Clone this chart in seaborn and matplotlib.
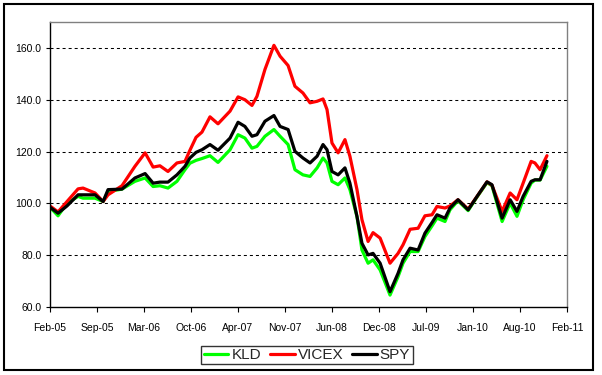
import numpy as np
import pandas as pd
import seaborn as sns
import matplotlib
matplotlib.use("Agg")
import matplotlib.pyplot as plt
import matplotlib.dates as mdates
from matplotlib.patches import Rectangle

# Values
dates = [
    "2005-02-01", "2005-03-07", "2005-04-14", "2005-05-31", "2005-06-21", "2005-08-11",
    "2005-09-14", "2005-10-05", "2005-12-03", "2006-01-27", "2006-03-11", "2006-04-14",
    "2006-05-13", "2006-06-16", "2006-07-24", "2006-08-27", "2006-09-17", "2006-10-13",
    "2006-11-07", "2006-12-11", "2007-01-14", "2007-03-06", "2007-04-09", "2007-05-08",
    "2007-06-07", "2007-06-28", "2007-08-01", "2007-09-08", "2007-10-04", "2007-11-07",
    "2007-12-06", "2008-01-09", "2008-02-08", "2008-03-09", "2008-04-03", "2008-04-20",
    "2008-05-11", "2008-06-06", "2008-07-05", "2008-07-26", "2008-08-25", "2008-09-15",
    "2008-10-11", "2008-11-01", "2008-12-01", "2009-01-12", "2009-02-15", "2009-03-08",
    "2009-04-07", "2009-05-11", "2009-06-09", "2009-07-09", "2009-07-30", "2009-09-02",
    "2009-09-23", "2009-10-27", "2009-12-09", "2010-01-16", "2010-02-27", "2010-03-20",
    "2010-05-02", "2010-06-05", "2010-07-04", "2010-07-30", "2010-09-02", "2010-09-18",
    "2010-10-10", "2010-11-08",
]
kld = [
    98.5, 95.2, 100.0, 102.7, 102.0, 102.0, 100.7, 104.5, 105.5, 108.5, 109.8, 106.5,
    106.8, 105.9, 108.5, 113.0, 115.5, 116.6, 117.3, 118.4, 115.8, 120.7, 126.5, 125.2,
    121.3, 122.0, 125.9, 128.5, 125.9, 122.7, 113.0, 111.0, 110.4, 113.7, 117.5, 115.6,
    108.5, 107.2, 109.8, 105.3, 94.9, 82.0, 76.9, 78.2, 74.3, 64.6, 71.7, 76.9,
    81.4, 81.4, 87.2, 91.3, 94.3, 93.0, 97.5, 101.0, 97.2, 102.5, 108.0, 106.8,
    93.0, 100.1, 95.0, 101.4, 107.8, 109.0, 109.0, 114.3,
]
vicex = [
    99.0, 96.7, 100.7, 105.6, 105.9, 104.0, 100.7, 103.3, 106.8, 114.3, 119.5, 114.0,
    114.5, 112.3, 115.6, 116.2, 120.5, 125.5, 127.5, 133.4, 130.7, 135.6, 141.1, 140.0,
    137.8, 141.3, 151.7, 161.0, 156.8, 153.2, 145.2, 142.6, 138.8, 139.4, 140.3, 136.2,
    123.3, 119.5, 124.6, 118.2, 105.3, 93.7, 85.3, 88.7, 86.6, 76.9, 80.7, 84.0,
    90.0, 90.4, 95.2, 95.6, 98.8, 98.2, 99.0, 101.4, 97.8, 102.7, 108.3, 107.0,
    96.9, 104.0, 101.4, 107.8, 116.2, 115.6, 113.0, 118.4,
]
spy = [
    98.5, 96.2, 99.0, 103.3, 103.3, 103.3, 100.7, 105.3, 105.5, 109.8, 111.5, 107.8,
    108.2, 108.2, 111.0, 114.3, 117.5, 119.7, 120.7, 122.7, 120.5, 125.2, 131.3, 129.7,
    125.9, 126.5, 131.7, 133.9, 129.7, 128.5, 120.1, 117.5, 115.6, 118.2, 122.7, 120.7,
    112.3, 111.0, 113.7, 107.8, 94.9, 84.6, 80.1, 80.7, 76.9, 65.9, 73.0, 78.2,
    82.7, 82.0, 88.5, 92.6, 95.6, 94.3, 98.2, 101.4, 97.5, 102.7, 108.3, 107.2,
    94.3, 101.4, 96.9, 102.7, 108.5, 109.1, 109.1, 116.2,
]
series_names = ["KLD", "VICEX", "SPY"]
series_colors = ["#00FF00", "#FF0000", "#000000"]
tick_labels = ["Feb-05", "Sep-05", "Mar-06", "Oct-06", "Apr-07", "Nov-07",
               "Jun-08", "Dec-08", "Jul-09", "Jan-10", "Aug-10", "Feb-11"]
y_ticks = [60, 80, 100, 120, 140, 160]

# Long format table for seaborn
df = pd.DataFrame({"date": pd.to_datetime(dates), "KLD": kld, "VICEX": vicex, "SPY": spy})
long_df = df.melt(id_vars="date", var_name="series", value_name="value")

sns.set_style("white")
plt.rcParams["font.family"] = ["Liberation Sans", "DejaVu Sans"]

fig = plt.figure(figsize=(6.02, 3.75), dpi=100)
ax = fig.add_axes([50 / 602, 1 - 307 / 375, 517 / 602, 285 / 375])

sns.lineplot(data=long_df, x="date", y="value", hue="series", hue_order=series_names,
             palette=series_colors, linewidth=2.3, ax=ax, legend=False, sort=False)

# Date axis: Excel spreads the major ticks evenly between the two ends
start = mdates.date2num(pd.Timestamp("2005-02-01"))
end = mdates.date2num(pd.Timestamp("2011-02-01"))
ax.set_xlim(start, end)
ax.set_xticks(np.linspace(start, end, len(tick_labels)))
ax.set_xticklabels(tick_labels)
ax.set_ylim(60, 170)
ax.set_yticks(y_ticks)
ax.set_yticklabels([f"{v:.1f}" for v in y_ticks])
ax.set_xlabel("")
ax.set_ylabel("")

ax.tick_params(axis="both", labelsize=7.5, colors="black", direction="out", width=0.8)
ax.tick_params(axis="x", length=3.5, pad=8)
ax.tick_params(axis="y", length=3, pad=3)
ax.xaxis.set_ticks_position("bottom")
ax.yaxis.set_ticks_position("left")

# Dashed horizontal gridlines
for v in y_ticks[1:]:
    ax.axhline(v, color="black", linewidth=0.75, linestyle=(0, (2.9, 2.9)), zorder=0.5)

for side in ["left", "bottom"]:
    ax.spines[side].set_color("black")
    ax.spines[side].set_linewidth(1.0)
for side in ["top", "right"]:
    ax.spines[side].set_color("#808080")
    ax.spines[side].set_linewidth(1.0)

# Legend below the plot
handles = [plt.Line2D([0], [0], color=c, linewidth=2.3) for c in series_colors]
leg = fig.legend(handles, series_names, loc="center", bbox_to_anchor=(307 / 602, 1 - 355 / 375),
                 ncol=3, fontsize=11, frameon=True, fancybox=False, handlelength=1.6,
                 handletextpad=0.2, columnspacing=0.6, borderpad=0.15, borderaxespad=0)
leg.get_frame().set_edgecolor("black")
leg.get_frame().set_linewidth(1.0)

# Outer chart border
fig.patches.append(Rectangle((4 / 602, 5 / 375), 589 / 602, 366 / 375, transform=fig.transFigure,
                             fill=False, edgecolor="black", linewidth=1.5))

fig.savefig("out.png", dpi=100)
